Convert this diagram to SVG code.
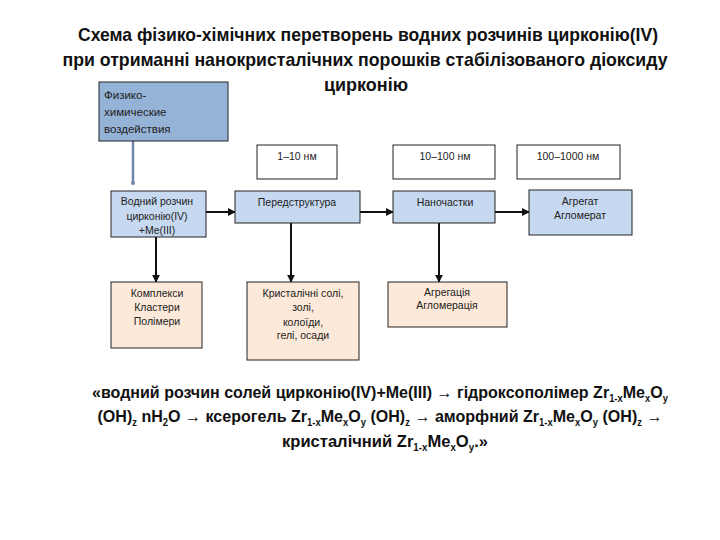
<svg xmlns="http://www.w3.org/2000/svg" width="720" height="540" viewBox="0 0 720 540">
<style>
.title{font-family:"Liberation Sans",Arial,sans-serif;font-weight:bold;font-size:19px;fill:#111;text-anchor:middle}
.formula{font-family:"Liberation Sans",Arial,sans-serif;font-weight:bold;font-size:17px;fill:#111;text-anchor:middle}
.sub{font-size:10px}
.lbl{font-family:"Liberation Sans",Arial,sans-serif;font-size:10.5px;fill:#222;text-anchor:middle}
.lbll{font-family:"Liberation Sans",Arial,sans-serif;font-size:11.5px;fill:#222}
.blue{fill:#c6d9f1;stroke:#222;stroke-width:1}
.peach{fill:#fde9d9;stroke:#222;stroke-width:1}
.white{fill:#fff;stroke:#222;stroke-width:1}
.dark{fill:#95b3d7;stroke:#222;stroke-width:1}
.conn{stroke:#111;stroke-width:2;fill:none}
</style>
<defs>
<marker id="arr" viewBox="0 0 10 10" refX="9" refY="5" markerWidth="4" markerHeight="4" orient="auto" markerUnits="strokeWidth">
<path d="M0,0 L10,5 L0,10 z" fill="#111"/>
</marker>
<marker id="dot" viewBox="0 0 10 10" refX="5" refY="5" markerWidth="2" markerHeight="2" orient="auto" markerUnits="strokeWidth">
<circle cx="5" cy="5" r="4" fill="#6f86a8"/>
</marker>
</defs>
<rect width="720" height="540" fill="#fff"/>

<g id="title">
<text class="title" x="368" y="41" textLength="580" lengthAdjust="spacingAndGlyphs">Схема фізико-хімічних перетворень водних розчинів цирконію(IV)</text>
<text class="title" x="365" y="66" textLength="605" lengthAdjust="spacingAndGlyphs">при отриманні нанокристалічних порошків стабілізованого діоксиду</text>
<text class="title" x="366" y="91" textLength="84" lengthAdjust="spacingAndGlyphs">цирконію</text>
</g>

<g id="connectors">
<line x1="133" y1="141" x2="133" y2="183" stroke="#6f86a8" stroke-width="2.5" marker-end="url(#dot)"/>
<line class="conn" x1="206" y1="212" x2="235" y2="212" marker-end="url(#arr)"/>
<line class="conn" x1="360" y1="212" x2="393" y2="212" marker-end="url(#arr)"/>
<line class="conn" x1="495" y1="212" x2="529" y2="212" marker-end="url(#arr)"/>
<line class="conn" x1="156" y1="237" x2="156" y2="282" stroke-width="2.5" marker-end="url(#arr)"/>
<line class="conn" x1="291" y1="223" x2="291" y2="282" marker-end="url(#arr)"/>
<line class="conn" x1="439" y1="223" x2="439" y2="282" marker-end="url(#arr)"/>
</g>

<g id="n-fiz">
<rect class="dark" x="99" y="82" width="129" height="59"/>
<text class="lbll" x="104" y="99">Физико-</text>
<text class="lbll" x="104" y="116">химические</text>
<text class="lbll" x="104" y="133">воздействия</text>
</g>

<g id="n-vodnyi">
<rect class="blue" x="111" y="191" width="95" height="46"/>
<text class="lbl" x="157" y="205">Водний розчин</text>
<text class="lbl" x="157" y="220">цирконію(IV)</text>
<text class="lbl" x="157" y="234">+Me(III)</text>
</g>

<g id="n-1-10">
<rect class="white" x="257" y="145" width="80" height="34"/>
<text class="lbl" x="297" y="160">1–10 нм</text>
</g>
<g id="n-10-100">
<rect class="white" x="393" y="145" width="102" height="34"/>
<text class="lbl" x="445" y="160">10–100 нм</text>
</g>
<g id="n-100-1000">
<rect class="white" x="517" y="145" width="103" height="34"/>
<text class="lbl" x="568" y="160">100–1000 нм</text>
</g>

<g id="n-peredstr">
<rect class="blue" x="235" y="191" width="125" height="32"/>
<text class="lbl" x="297" y="206">Передструктура</text>
</g>
<g id="n-nano">
<rect class="blue" x="393" y="191" width="102" height="32"/>
<text class="lbl" x="445" y="206">Наночастки</text>
</g>
<g id="n-agregat">
<rect class="blue" x="529" y="190" width="103" height="45"/>
<text class="lbl" x="580" y="205">Агрегат</text>
<text class="lbl" x="580" y="219">Агломерат</text>
</g>

<g id="n-kompleksy">
<rect class="peach" x="111" y="282" width="91" height="66"/>
<text class="lbl" x="157" y="297">Комплекси</text>
<text class="lbl" x="157" y="311">Кластери</text>
<text class="lbl" x="157" y="325">Полімери</text>
</g>
<g id="n-kryst">
<rect class="peach" x="247" y="282" width="112" height="78"/>
<text class="lbl" x="303" y="297">Кристалічні  солі,</text>
<text class="lbl" x="303" y="311">золі,</text>
<text class="lbl" x="303" y="326">колоїди,</text>
<text class="lbl" x="303" y="339">гелі, осади</text>
</g>
<g id="n-agregacia">
<rect class="peach" x="388" y="282" width="119" height="45"/>
<text class="lbl" x="447" y="296">Агрегація</text>
<text class="lbl" x="447" y="309">Агломерація</text>
</g>

<g id="formula">
<text class="formula" x="380" y="398" textLength="576" lengthAdjust="spacingAndGlyphs">«водний розчин солей цирконію(IV)+Me(III) → гідроксополімер Zr<tspan class="sub" dy="4">1-x</tspan><tspan dy="-4">Me</tspan><tspan class="sub" dy="4">x</tspan><tspan dy="-4">O</tspan><tspan class="sub" dy="4">y</tspan></text>
<text class="formula" x="380" y="422" textLength="565" lengthAdjust="spacingAndGlyphs">(OH)<tspan class="sub" dy="4">z</tspan><tspan dy="-4"> nH</tspan><tspan class="sub" dy="4">2</tspan><tspan dy="-4">O → ксерогель Zr</tspan><tspan class="sub" dy="4">1-x</tspan><tspan dy="-4">Me</tspan><tspan class="sub" dy="4">x</tspan><tspan dy="-4">O</tspan><tspan class="sub" dy="4">y</tspan><tspan dy="-4"> (OH)</tspan><tspan class="sub" dy="4">z</tspan><tspan dy="-4">  → аморфний Zr</tspan><tspan class="sub" dy="4">1-x</tspan><tspan dy="-4">Me</tspan><tspan class="sub" dy="4">x</tspan><tspan dy="-4">O</tspan><tspan class="sub" dy="4">y</tspan><tspan dy="-4"> (OH)</tspan><tspan class="sub" dy="4">z</tspan><tspan dy="-4"> →</tspan></text>
<text class="formula" x="385" y="447" textLength="206" lengthAdjust="spacingAndGlyphs">кристалічний Zr<tspan class="sub" dy="4">1-x</tspan><tspan dy="-4">Me</tspan><tspan class="sub" dy="4">x</tspan><tspan dy="-4">O</tspan><tspan class="sub" dy="4">y</tspan><tspan dy="-4">.»</tspan></text>
</g>
</svg>
